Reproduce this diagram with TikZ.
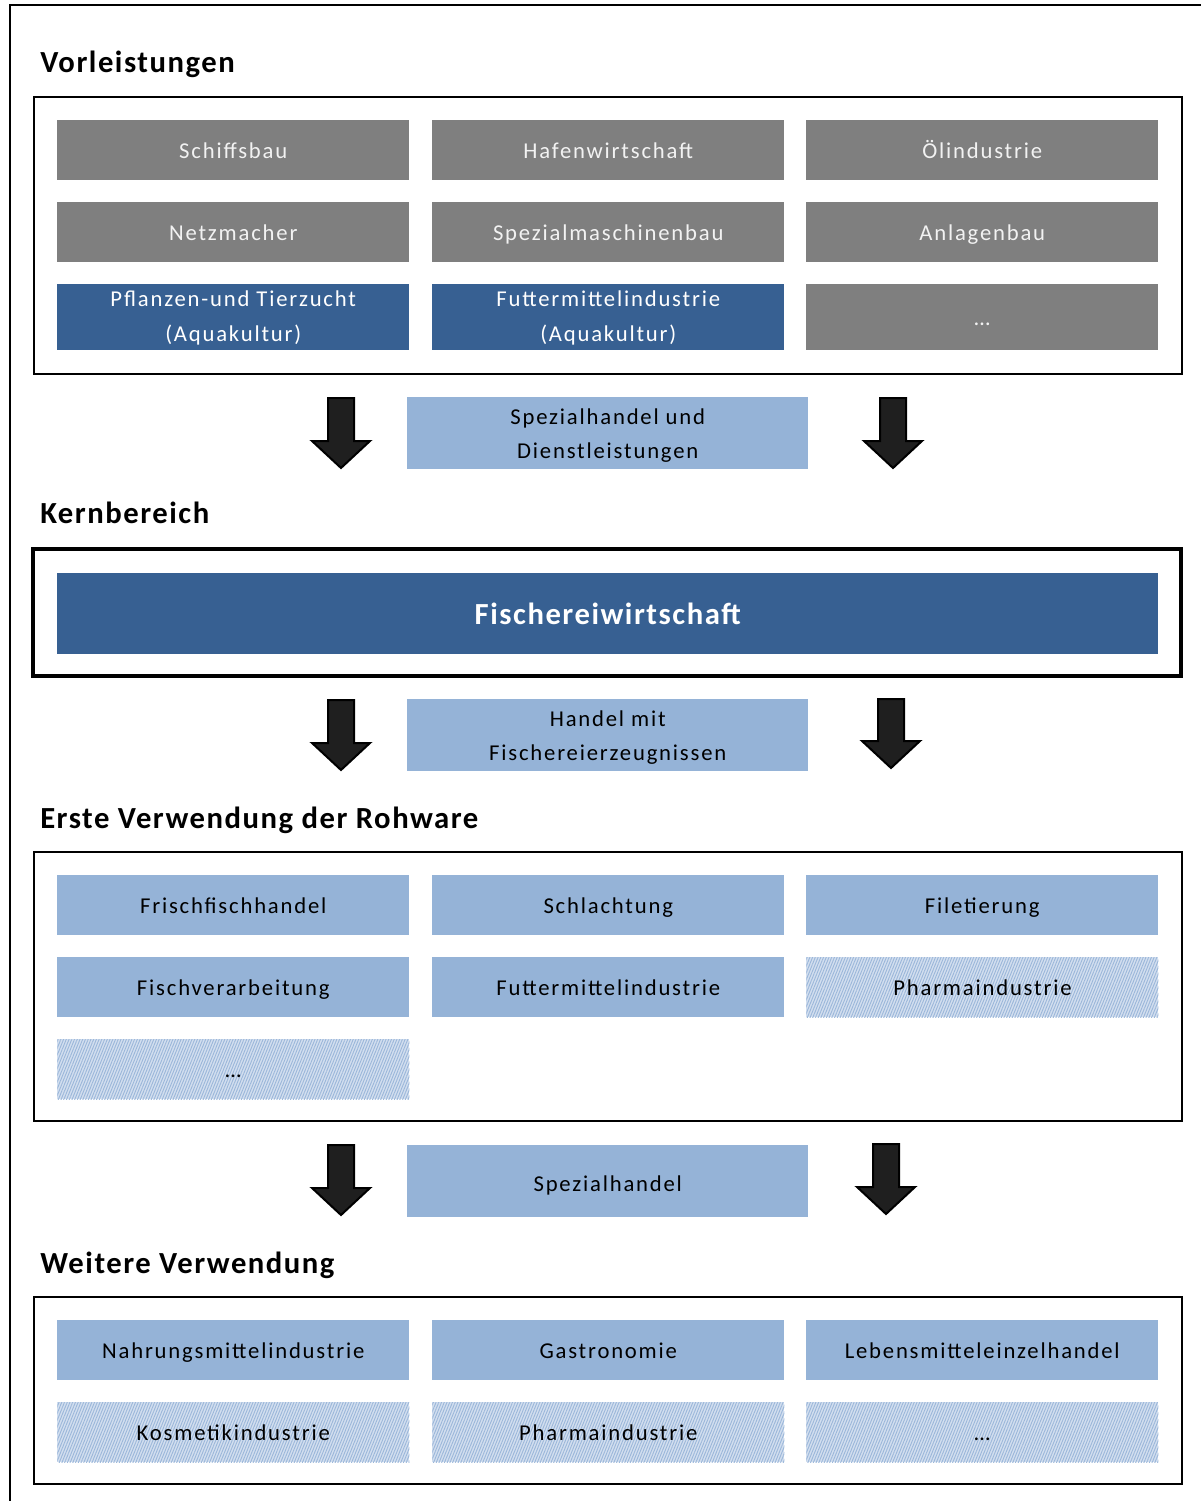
\documentclass[tikz,border=0pt]{standalone}
\usepackage{fontspec}
\setmainfont{Carlito}
\newfontfamily\boxfont[LetterSpace=8]{Carlito}
\newfontfamily\headfont[LetterSpace=5]{Carlito}
\usetikzlibrary{patterns.meta}
\definecolor{greybox}{HTML}{7F7F7F}
\definecolor{darkblue}{HTML}{376092}
\definecolor{lightblue}{HTML}{95B3D7}
\definecolor{hatchbg}{HTML}{D3DFEF}
\definecolor{hatchline}{HTML}{9BB7DA}
\definecolor{greytext}{HTML}{F2F2F2}
\begin{document}
\begin{tikzpicture}[x=0.75pt,y=-0.75pt,
  cell/.style={anchor=north west, inner sep=0pt, minimum width=264pt, minimum height=45pt, align=center, font=\boxfont\fontsize{17}{26}\selectfont},
  oneline/.style={text height=15.5pt, text depth=3pt},
  greycell/.style={cell, fill=greybox, text=greytext},
  bluecell/.style={cell, fill=darkblue, text=white},
  lightcell/.style={cell, oneline, fill=lightblue, text=black},
  hatchcell/.style={cell, oneline, text=black, preaction={fill=hatchbg}, pattern={Lines[angle=68,distance=1.9pt,line width=0.7pt]}, pattern color=hatchline},
  midcell/.style={anchor=north west, inner sep=0pt, minimum width=300.75pt, minimum height=54pt, align=center, font=\boxfont\fontsize{17}{25.5}\selectfont, fill=lightblue, text=black},
  heading/.style={anchor=base west, inner sep=0pt, font=\headfont\fontsize{23}{27}\selectfont\bfseries},
  frame/.style={draw=black, line width=1.6pt},
  blockarrow/.style={fill=black!88, draw=black, line width=1.5pt, line join=miter}
]
\useasboundingbox (0,0) rectangle (1200,1501);
% outer frame
\draw[line width=1.8pt] (10,1510) -- (10,5) -- (1210,5);

% ---------- Vorleistungen ----------
\node[heading] (h1) at (40,73) {Vorleistungen};
\draw[frame] (34,97) rectangle (1182,374);
\node[greycell, oneline] (a1) at (57,120) {Schiffsbau};
\node[greycell, oneline] (a2) at (432,120) {Hafenwirtschaft};
\node[greycell, oneline] (a3) at (806,120) {Ölindustrie};
\node[greycell, oneline] (a4) at (57,202) {Netzmacher};
\node[greycell, oneline] (a5) at (432,202) {Spezialmaschinenbau};
\node[greycell, oneline] (a6) at (806,202) {Anlagenbau};
\node[bluecell, minimum height=49.5pt, text depth=2pt] (a7) at (57,284) {Pflanzen-und Tierzucht\\(Aquakultur)};
\node[bluecell, minimum height=49.5pt, text depth=2pt] (a8) at (432,284) {Futtermittelindustrie\\(Aquakultur)};
\node[greycell, oneline, minimum height=49.5pt] (a9) at (806,284) {…};

% arrows
\newcommand{\blkarrow}[3]{% center x, top y, bottom y
  \filldraw[blockarrow] ({#1-13},#2) -- ({#1+13},#2) -- ({#1+13},{#3-27}) -- ({#1+29},{#3-27}) -- (#1,#3) -- ({#1-29},{#3-27}) -- ({#1-13},{#3-27}) -- cycle;}
\blkarrow{341}{398}{468}
\blkarrow{893}{398}{468}
\node[midcell, text depth=-1pt] (m1) at (407,397) {Spezialhandel und\\Dienstleistungen};

% ---------- Kernbereich ----------
\node[heading] (h2) at (40,523) {Kernbereich};
\draw[black, line width=3pt] (33,549) rectangle (1181,676);
\node[bluecell, minimum width=825.75pt, minimum height=60.75pt, font=\headfont\fontsize{23}{27}\selectfont\bfseries] (k1) at (57,573) {Fischereiwirtschaft};

\blkarrow{341}{700}{770}
\blkarrow{891}{699}{768}
\node[midcell, text depth=-1pt] (m2) at (407,699) {Handel mit\\Fischereierzeugnissen};

% ---------- Erste Verwendung ----------
\node[heading] (h3) at (40,828) {Erste Verwendung der Rohware};
\draw[frame] (34,852) rectangle (1182,1121);
\node[lightcell] (b1) at (57,875) {Frischfischhandel};
\node[lightcell] (b2) at (432,875) {Schlachtung};
\node[lightcell] (b3) at (806,875) {Filetierung};
\node[lightcell] (b4) at (57,957) {Fischverarbeitung};
\node[lightcell] (b5) at (432,957) {Futtermittelindustrie};
\node[hatchcell] (b6) at (806,957) {Pharmaindustrie};
\node[hatchcell] (b7) at (57,1039) {…};

\blkarrow{341}{1145}{1215}
\blkarrow{886}{1144}{1214}
\node[midcell, text height=17pt, text depth=2pt] (m3) at (407,1145) {Spezialhandel};

% ---------- Weitere Verwendung ----------
\node[heading] (h4) at (40,1273) {Weitere Verwendung};
\draw[frame] (34,1297) rectangle (1182,1484);
\node[lightcell] (c1) at (57,1320) {Nahrungsmittelindustrie};
\node[lightcell] (c2) at (432,1320) {Gastronomie};
\node[lightcell] (c3) at (806,1320) {Lebensmitteleinzelhandel};
\node[hatchcell] (c4) at (57,1402) {Kosmetikindustrie};
\node[hatchcell] (c5) at (432,1402) {Pharmaindustrie};
\node[hatchcell] (c6) at (806,1402) {…};
\end{tikzpicture}
\end{document}
